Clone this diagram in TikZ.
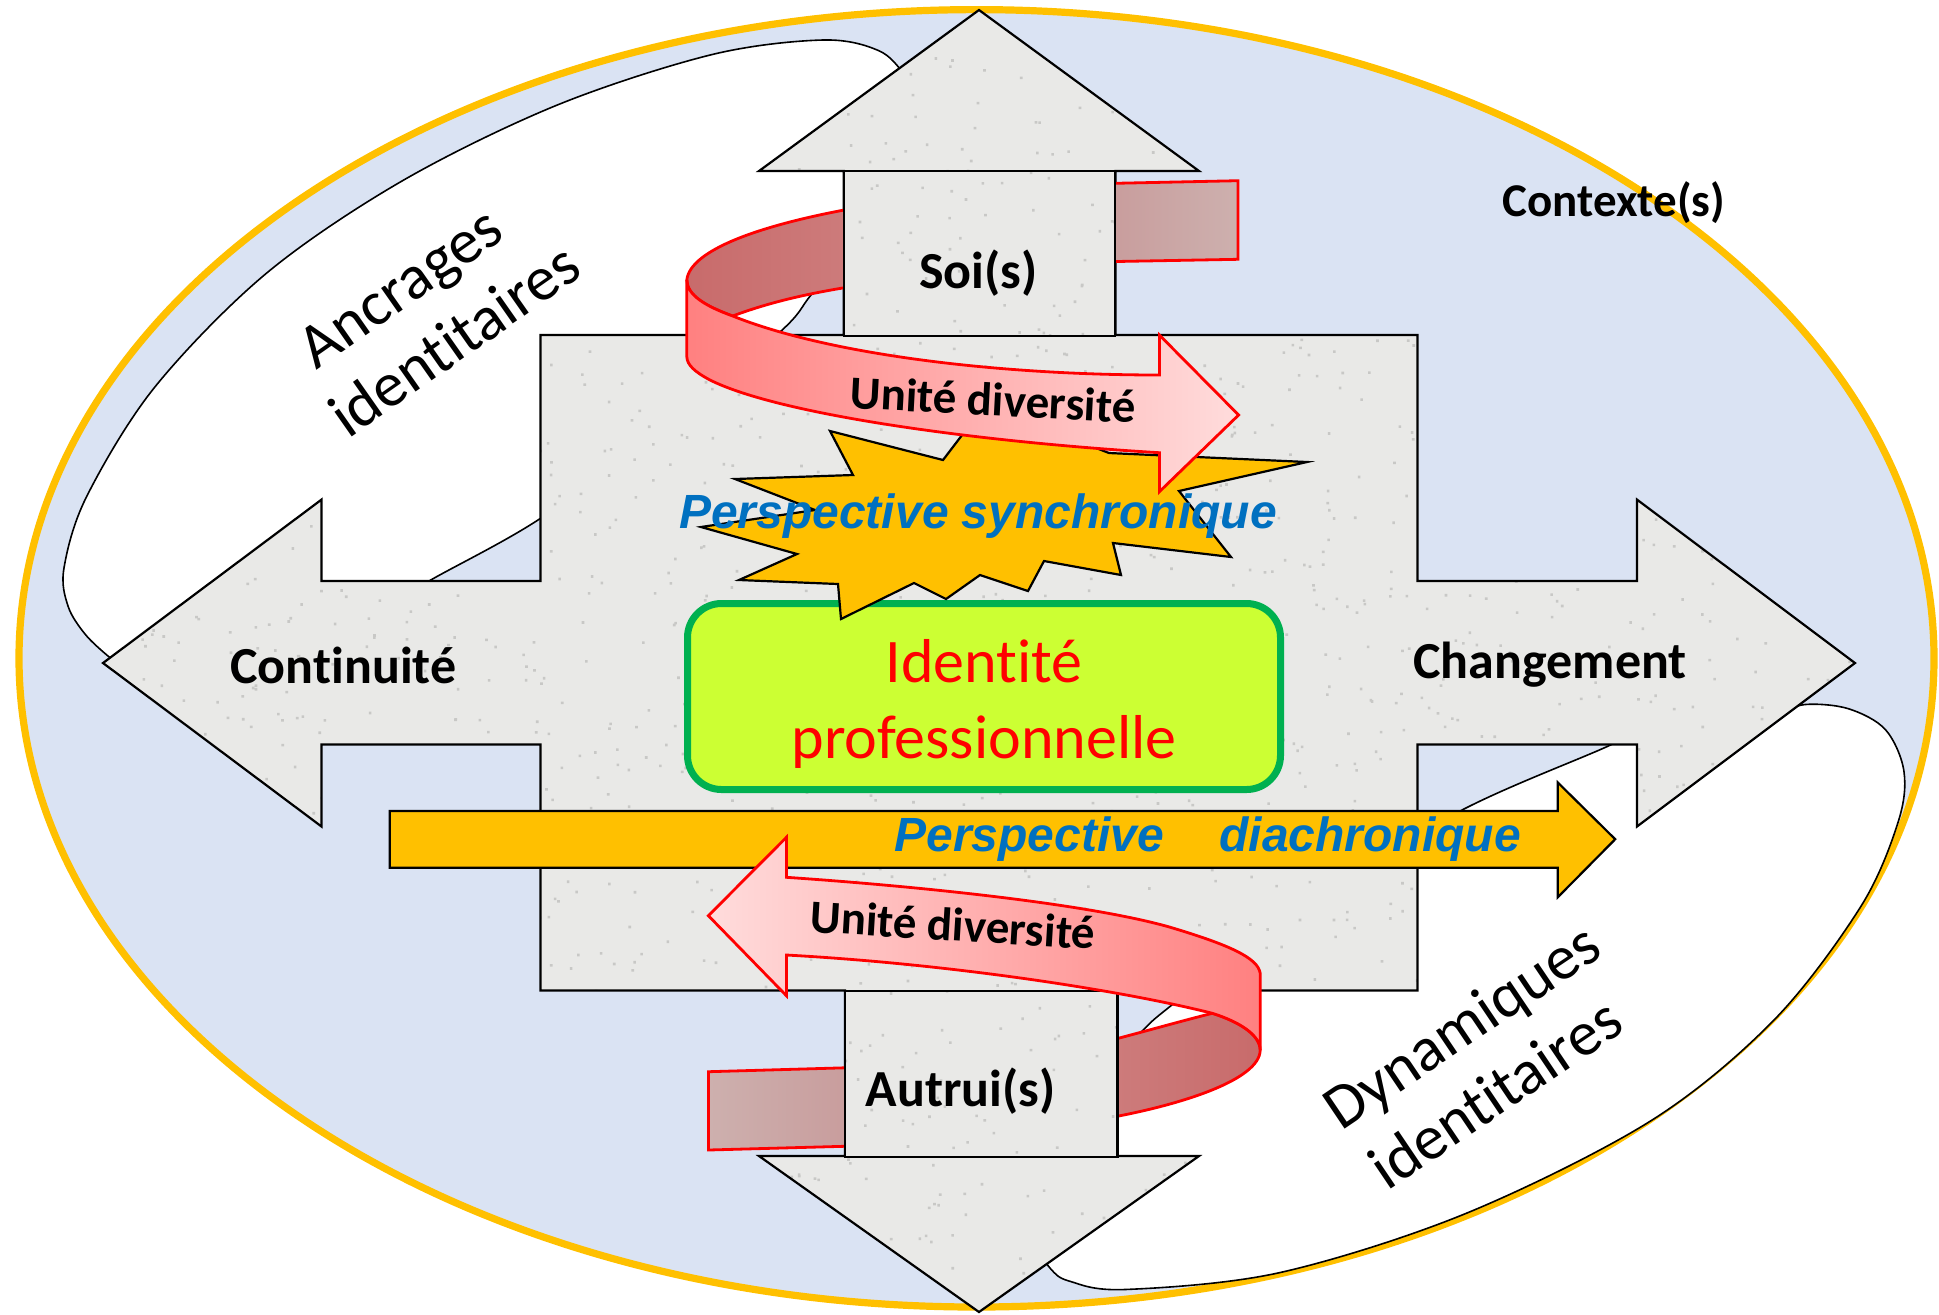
\documentclass[tikz,border=0pt]{standalone}
\usepackage{fontspec}
\setmainfont{Carlito}[Ligatures={NoCommon,NoRequired,NoContextual}, Contextuals={NoAlternate}, RawFeature={-liga;-clig;-dlig;-calt}]
\newfontfamily\arialfont{Liberation Sans}
\definecolor{ctxblue}{HTML}{DAE3F3}
\definecolor{ctxorange}{HTML}{FFC000}
\definecolor{granite}{RGB}{233,233,231}
\definecolor{speck}{RGB}{200,200,198}
\definecolor{txtblue}{HTML}{0070C0}
\definecolor{idfill}{HTML}{CCFF33}
\definecolor{idgreen}{HTML}{00B050}
\definecolor{ribA}{HTML}{FF8080}
\definecolor{ribB}{HTML}{FFDCDC}
\definecolor{ribdarkA}{HTML}{C86B6B}
\definecolor{ribdarkB}{HTML}{CD7C7C}
\definecolor{ribbackA}{HTML}{C89C9C}
\definecolor{ribbackB}{HTML}{CDB0AE}
\begin{document}
\begin{tikzpicture}[x=0.5pt,y=-0.5pt,
  outl/.style={draw=black, line width=1.1pt, line join=miter},
  bandline/.style={draw=black, line width=0.8pt, fill=white},
  graybox/.style={draw=black, line width=1.1pt, fill=granite, inner sep=0pt},
  ribline/.style={draw=red, line width=1.4pt, line join=miter},
  lblbold/.style={font=\fontsize{26}{30}\selectfont\bfseries, inner sep=0pt, anchor=base},
  unite/.style={font=\fontsize{23.5}{28}\selectfont\bfseries, inner sep=0pt, anchor=base},
  persp/.style={font=\arialfont\fontsize{24}{28}\selectfont\bfseries\itshape, text=txtblue, inner sep=0pt, anchor=base},
  swoosh/.style={font=\fontsize{31.5}{37.5}\selectfont, align=center, inner sep=0pt}
]
\useasboundingbox (0,0) rectangle (1939,1314);
% context ellipse
\draw[ctxorange, line width=3.6pt, fill=ctxblue] (976.5,658.3) ellipse [x radius=957.5, y radius=648.7];
% white swooshes
\path[bandline] plot[smooth, tension=0.55] coordinates {(125,668) (108,656) (85,634) (68,606) (64,568) (86.6,496.6) (154.7,387.2) (266,273.6) (402,181) (556.8,105.2) (711.4,54.7) (822.8,40) (878.4,50.5) (905,75) (930,110)}
  -- (950,130) -- plot[smooth, tension=0.55] coordinates {(880,205) (850,248) (811,295) (780,332) (665,428) (538,520) (429,581) (380,612)} -- cycle;
\path[bandline] plot[smooth, tension=0.55] coordinates {(1775,715) (1805,704.5) (1848.4,708.7) (1885.6,729.8) (1904,771.8) (1898,822.4) (1860.8,906.5) (1774,1020) (1650.5,1121) (1465,1213.8) (1279.3,1272.7) (1124.7,1289.5) (1069,1281) (1050.4,1268.5) (1035,1245)}
  -- (1000,1200) -- plot[smooth, tension=0.55] coordinates {(1090,1090) (1141.6,1031.7) (1176,1001.7) (1300,905) (1462,810) (1607,746.6) (1660,720)} -- cycle;
% four-way arrow
\path[fill=granite] (979,10) -- (1199,171) -- (1115.4,171) -- (1115.4,335) -- (1417.5,335) -- (1417.5,581) -- (1637,581) -- (1637,499.6) -- (1855,663) -- (1637,826.5) -- (1637,744.5) -- (1417.5,744.5) -- (1417.5,990.5) -- (1117.5,990.5) -- (1117.5,1156) -- (1199,1156) -- (979,1312) -- (759,1156) -- (845,1156) -- (845,990.5) -- (540.5,990.5) -- (540.5,744.5) -- (321.5,744.5) -- (321.5,826.5) -- (103,663) -- (321.5,499.6) -- (321.5,581) -- (540.5,581) -- (540.5,335) -- (843.7,335) -- (843.7,171) -- (759,171) -- cycle;
% granite speckles
\begin{scope}
\clip (979,10) -- (1199,171) -- (1115.4,171) -- (1115.4,335) -- (1417.5,335) -- (1417.5,581) -- (1637,581) -- (1637,499.6) -- (1855,663) -- (1637,826.5) -- (1637,744.5) -- (1417.5,744.5) -- (1417.5,990.5) -- (1117.5,990.5) -- (1117.5,1156) -- (1199,1156) -- (979,1312) -- (759,1156) -- (845,1156) -- (845,990.5) -- (540.5,990.5) -- (540.5,744.5) -- (321.5,744.5) -- (321.5,826.5) -- (103,663) -- (321.5,499.6) -- (321.5,581) -- (540.5,581) -- (540.5,335) -- (843.7,335) -- (843.7,171) -- (759,171) -- cycle;
\pgfmathsetseed{11}
\fill[speck] \foreach \k in {1,...,2400} { ({100+1760*rnd},{8+1306*rnd}) rectangle ++(2.6,2.6) };
\end{scope}
\path[outl] (979,10) -- (1199,171) -- (1115.4,171) -- (1115.4,335) -- (1417.5,335) -- (1417.5,581) -- (1637,581) -- (1637,499.6) -- (1855,663) -- (1637,826.5) -- (1637,744.5) -- (1417.5,744.5) -- (1417.5,990.5) -- (1117.5,990.5) -- (1117.5,1156) -- (1199,1156) -- (979,1312) -- (759,1156) -- (845,1156) -- (845,990.5) -- (540.5,990.5) -- (540.5,744.5) -- (321.5,744.5) -- (321.5,826.5) -- (103,663) -- (321.5,499.6) -- (321.5,581) -- (540.5,581) -- (540.5,335) -- (843.7,335) -- (843.7,171) -- (759,171) -- cycle;
% ribbon back parts (top)
\path[ribline, left color=ribbackA, right color=ribbackB] (1105,183.5) -- (1238,180.7) -- (1238,259.3) -- (1105,261.7) -- cycle;
\path[ribline, left color=ribdarkA, right color=ribdarkB] (855,208) .. controls (760,225) and (690,250) .. (686.8,280) .. controls (687,295) and (705,306) .. (732.7,316) .. controls (770,302) and (810,293) .. (855,286) -- cycle;
% ribbon back parts (bottom)
\path[ribline, left color=ribbackB, right color=ribbackA] (708.4,1071.7) -- (855,1067.5) -- (855,1146) -- (708.4,1150) -- cycle;
\path[ribline, left color=ribdarkB, right color=ribdarkA] (1108,1041) .. controls (1150,1030) and (1185,1020) .. (1212.4,1013.3) .. controls (1240,1022) and (1260,1035) .. (1260.2,1050) .. controls (1260,1080) and (1180,1105) .. (1108,1118) -- cycle;
% boxes
\node[graybox, minimum width=135.85pt, minimum height=82.5pt] (soi) at (979.5,253.5) {};
\node[graybox, minimum width=136.25pt, minimum height=83pt] (autrui) at (981.25,1073.7) {};
\begin{scope}
\clip (843.7,171) rectangle (1115.4,335) (845,990.5) rectangle (1117.5,1156);
\pgfmathsetseed{5}
\fill[speck] \foreach \k in {1,...,240} { ({843+275*rnd},{170+990*rnd}) rectangle ++(2.6,2.6) };
\end{scope}
\node[draw=black, line width=1.1pt, minimum width=135.85pt, minimum height=82.5pt, inner sep=0pt] (soiframe) at (979.5,253.5) {};
\node[draw=black, line width=1.1pt, minimum width=136.25pt, minimum height=83pt, inner sep=0pt] (autruiframe) at (981.25,1073.7) {};
% central identity box
\node[draw=idgreen, line width=3.5pt, fill=idfill, rounded corners=17pt, minimum width=296.5pt, minimum height=93pt, inner sep=0pt] (idbox) at (984,696.5) {};
% starburst
\path[outl, fill=ctxorange] (830,431) -- (943,460) -- (985,405) -- (1109,453) -- (1307,462) -- (1179,491) -- (1231,557) -- (1113,543) -- (1121,575) -- (1044,561) -- (1028,591) -- (980,575) -- (946,599) -- (914,583) -- (841,619) -- (838,584) -- (739,580) -- (797,554) -- (701,527) -- (815,510) -- (735,479) -- (853,475) -- cycle;
% diachronic arrow
\path[outl, fill=ctxorange] (389.7,811) -- (1557.7,811) -- (1557.7,782.4) -- (1615.2,839.2) -- (1557.7,897.3) -- (1557.7,867.8) -- (389.7,867.8) -- cycle;
% ribbon front (top)
\path[ribline, left color=ribA, right color=ribB] (686.8,280) .. controls (687,295) and (705,306) .. (732.7,316) .. controls (830,355) and (1000,375) .. (1159.4,375) -- (1159.4,335) -- (1238.6,415) -- (1159.4,491.7) -- (1159.4,452.7) .. controls (980,442) and (780,415) .. (710,380) .. controls (695,372) and (687,365) .. (686.8,356.7) -- cycle;
% ribbon front (bottom)
\path[ribline, left color=ribB, right color=ribA] (786.4,877.3) -- (786.4,837.3) -- (708.4,915.7) -- (786.4,995.7) -- (786.4,955) .. controls (950,964) and (1120,990) .. (1212.4,1013.3) .. controls (1240,1022) and (1260,1035) .. (1260.2,1050) -- (1260.2,973.3) .. controls (1258,958) and (1230,945) .. (1168.4,926.7) .. controls (1080,902) and (900,885) .. (786.4,877.3) -- cycle;
% texts
\node[lblbold] (tsoi) at (978.5,288.3) {Soi(s)};
\node[lblbold] (taut) at (960.5,1106.7) {Autrui(s)};
\node[lblbold] (tcont) at (343.4,683.5) {Continuité};
\node[lblbold] (tchg) at (1550,678) {Changement};
\node[font=\fontsize{23.5}{28}\selectfont\bfseries, inner sep=0pt, anchor=base] (tctx) at (1614,216.8) {Contexte(s)};
\node[unite, rotate=-3] (tu1) at (992,415.7) {Unité diversité};
\node[unite, rotate=-3.5] (tu2) at (952,940.7) {Unité diversité};
\node[persp] (tsyn) at (978,528.3) {Perspective synchronique};
\node[persp, anchor=base west] (tdia) at (894,851.8) {Perspective\hspace{27.8pt}diachronique};
\node[font=\fontsize{31}{38}\selectfont, text=red, align=center, inner sep=0pt] (idtxt) at (984,704) {Identité\\professionnelle};
\node[swoosh, rotate=35] (tanc) at (422,318) {Ancrages\\\hspace*{14pt}identitaires};
\node[swoosh, rotate=34] (tdyn) at (1474,1062) {\hspace*{10pt}Dynamiques\\identitaires};
\end{tikzpicture}
\end{document}
